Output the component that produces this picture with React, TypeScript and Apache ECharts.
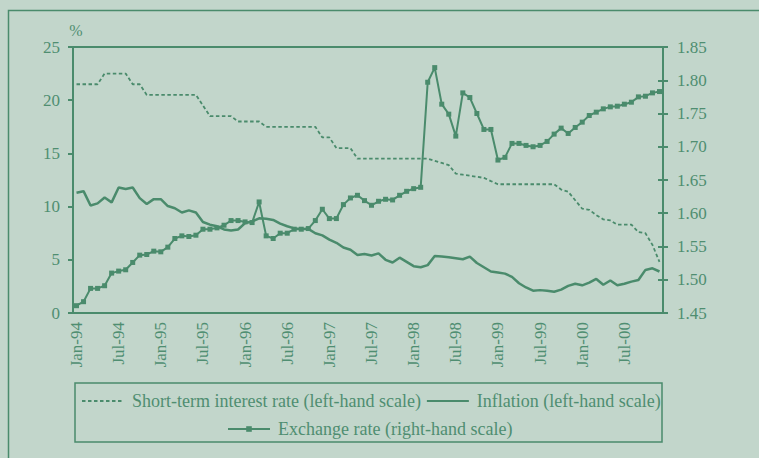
import React, { useEffect, useRef } from "react";
import * as echarts from "echarts";

const MONTHS = ["Jan", "Feb", "Mar", "Apr", "May", "Jun", "Jul", "Aug", "Sep", "Oct", "Nov", "Dec"];
const YEARS = ["94", "95", "96", "97", "98", "99", "00"];
const categories = YEARS.flatMap((y) => MONTHS.map((m) => `${m}-${y}`));

const interestRate = [
  21.5, 21.5, 21.5, 21.5, 22.5, 22.5, 22.5, 22.5, 21.5, 21.5,
  20.5, 20.5, 20.5, 20.5, 20.5, 20.5, 20.5, 20.5, 19.5,
  18.5, 18.5, 18.5, 18.5, 18.0, 18.0, 18.0, 18.0,
  17.5, 17.5, 17.5, 17.5, 17.5, 17.5, 17.5, 17.5,
  16.5, 16.5, 15.5, 15.5, 15.5,
  14.5, 14.5, 14.5, 14.5, 14.5, 14.5, 14.5, 14.5, 14.5, 14.5, 14.5,
  14.3, 14.1, 13.9, 13.1, 13.0, 12.9, 12.8, 12.7, 12.4,
  12.1, 12.1, 12.1, 12.1, 12.1, 12.1, 12.1, 12.1, 12.1,
  11.6, 11.4, 10.6, 9.8, 9.7, 9.2, 8.8, 8.7, 8.3, 8.3, 8.3, 7.6, 7.5, 6.4, 4.8,
];

const inflation = [
  11.3, 11.45, 10.1, 10.3, 10.85, 10.4, 11.8, 11.65, 11.8, 10.8, 10.25, 10.7, 10.7, 10.05, 9.85, 9.45, 9.65, 9.45, 8.55, 8.3, 8.15,
  7.85, 7.75, 7.85, 8.45, 8.6, 8.9, 8.85, 8.75, 8.4, 8.15, 7.95, 7.9, 7.9, 7.5, 7.3, 6.9, 6.6, 6.15, 5.95, 5.45, 5.55,
  5.4, 5.6, 5.0, 4.75, 5.2, 4.8, 4.4, 4.3, 4.5, 5.35, 5.3, 5.25, 5.15, 5.05, 5.3, 4.7, 4.3, 3.9, 3.8, 3.7,
  3.4, 2.8, 2.4, 2.1, 2.15, 2.1, 2.0, 2.2, 2.55, 2.75, 2.6, 2.85, 3.2, 2.65, 3.05, 2.6, 2.75, 2.95, 3.1, 4.05, 4.2, 3.9,
];

const exchangeRate = [
  1.461, 1.467, 1.487, 1.487, 1.491, 1.510, 1.513, 1.515, 1.526, 1.537, 1.538, 1.543, 1.542, 1.549, 1.562, 1.566, 1.565, 1.567, 1.576, 1.576, 1.578,
  1.582, 1.589, 1.589, 1.587, 1.586, 1.617, 1.566, 1.562, 1.570, 1.570, 1.576, 1.576, 1.577, 1.589, 1.606, 1.592, 1.592, 1.613, 1.623, 1.627, 1.619,
  1.612, 1.618, 1.621, 1.620, 1.627, 1.633, 1.637, 1.639, 1.797, 1.819, 1.764, 1.749, 1.716, 1.781, 1.774, 1.750, 1.726, 1.726, 1.680, 1.684,
  1.705, 1.705, 1.702, 1.700, 1.702, 1.708, 1.719, 1.728, 1.720, 1.729, 1.737, 1.747, 1.752, 1.757, 1.760, 1.761, 1.764, 1.767, 1.775, 1.776, 1.781, 1.783,
];

const SERIES_NAMES = [
  "Short-term interest rate (left-hand scale)",
  "Inflation (left-hand scale)",
  "Exchange rate (right-hand scale)",
];

const BG = "#c2d6cb";
const LINE = "#4a8b6c";
const TEXT = "#4f8e71";
const FONT = "'Liberation Serif', 'Times New Roman', serif";

export default function App() {
  const ref = useRef<HTMLDivElement>(null);

  useEffect(() => {
    if (!ref.current) return;
    const chart = echarts.init(ref.current, null, { renderer: "svg" });
    const axisLabelStyle = { color: TEXT, fontFamily: FONT, fontSize: 17 };
    const legendText = { color: TEXT, fontFamily: FONT, fontSize: 18, padding: [0, 0, 0, 3] };
    const noSymbol = { color: "rgba(0,0,0,0)", borderWidth: 0, opacity: 0 };
    chart.setOption({
      animation: false,
      backgroundColor: BG,
      textStyle: { fontFamily: FONT },
      grid: {
        left: 73,
        right: 96,
        top: 47,
        bottom: 145,
        show: true,
        borderColor: LINE,
        borderWidth: 2,
        backgroundColor: "transparent",
      },
      legend: [
        {
          data: [
            { name: SERIES_NAMES[0], itemStyle: noSymbol },
            { name: SERIES_NAMES[1], itemStyle: noSymbol },
          ],
          left: 76,
          top: 387,
          itemWidth: 42,
          itemHeight: 7,
          itemGap: 5,
          selectedMode: false,
          textStyle: legendText,
        },
        {
          data: [SERIES_NAMES[2]],
          left: 222,
          top: 415,
          itemWidth: 42,
          itemHeight: 7,
          itemGap: 5,
          selectedMode: false,
          textStyle: legendText,
        },
      ],
      xAxis: {
        type: "category",
        data: categories,
        boundaryGap: true,
        axisLine: { lineStyle: { color: LINE, width: 2 } },
        axisTick: { interval: 5, length: 5, lineStyle: { color: LINE, width: 2 } },
        axisLabel: { ...axisLabelStyle, interval: 5, rotate: 90, margin: 9 },
        splitLine: { show: false },
      },
      yAxis: [
        {
          type: "value",
          position: "left",
          min: 0,
          max: 25,
          interval: 5,
          axisLine: { show: true, lineStyle: { color: LINE, width: 2 } },
          axisTick: { show: true, length: 5, lineStyle: { color: LINE, width: 2 } },
          axisLabel: { ...axisLabelStyle, margin: 13 },
          splitLine: { show: false },
        },
        {
          type: "value",
          position: "right",
          min: 1.45,
          max: 1.85,
          interval: 0.05,
          axisLine: { show: true, lineStyle: { color: LINE, width: 2 } },
          axisTick: { show: true, length: 5, lineStyle: { color: LINE, width: 2 } },
          axisLabel: {
            ...axisLabelStyle,
            margin: 14,
            formatter: (v: number) => v.toFixed(2),
          },
          splitLine: { show: false },
        },
        {
          type: "value",
          position: "right",
          min: 1.45,
          max: 1.85,
          interval: 0.05,
          axisLine: { show: false },
          axisTick: { show: true, inside: true, length: 5, lineStyle: { color: LINE, width: 2 } },
          axisLabel: { show: false },
          splitLine: { show: false },
        },
      ],
      graphic: [
        {
          type: "rect",
          left: 6,
          top: 8,
          shape: { x: 0, y: 0, width: 800, height: 500 },
          style: { fill: "none", stroke: LINE, lineWidth: 1.5 },
          silent: true,
        },
        {
          type: "rect",
          shape: { x: 75, y: 383, width: 587, height: 59 },
          style: { fill: "none", stroke: LINE, lineWidth: 1.5 },
          silent: true,
        },
        {
          type: "text",
          x: 76,
          y: 30,
          style: {
            text: "%",
            fill: TEXT,
            font: `16px ${FONT}`,
            align: "center",
            verticalAlign: "middle",
          },
          silent: true,
        },
      ],
      series: [
        {
          name: SERIES_NAMES[0],
          type: "line",
          yAxisIndex: 0,
          data: interestRate,
          symbol: "none",
          lineStyle: { color: LINE, width: 1.8, type: [3.5, 2.5] },
          itemStyle: { color: LINE },
        },
        {
          name: SERIES_NAMES[1],
          type: "line",
          yAxisIndex: 0,
          data: inflation,
          symbol: "none",
          lineStyle: { color: LINE, width: 2.5 },
          itemStyle: { color: LINE },
        },
        {
          name: SERIES_NAMES[2],
          type: "line",
          yAxisIndex: 1,
          data: exchangeRate,
          symbol: "rect",
          symbolSize: 5,
          showAllSymbol: true,
          lineStyle: { color: LINE, width: 2 },
          itemStyle: { color: LINE },
        },
      ],
    });
    return () => chart.dispose();
  }, []);

  return (
    <div
      ref={ref}
      style={{ position: "fixed", left: 0, top: 0, width: 759, height: 458 }}
    />
  );
}
